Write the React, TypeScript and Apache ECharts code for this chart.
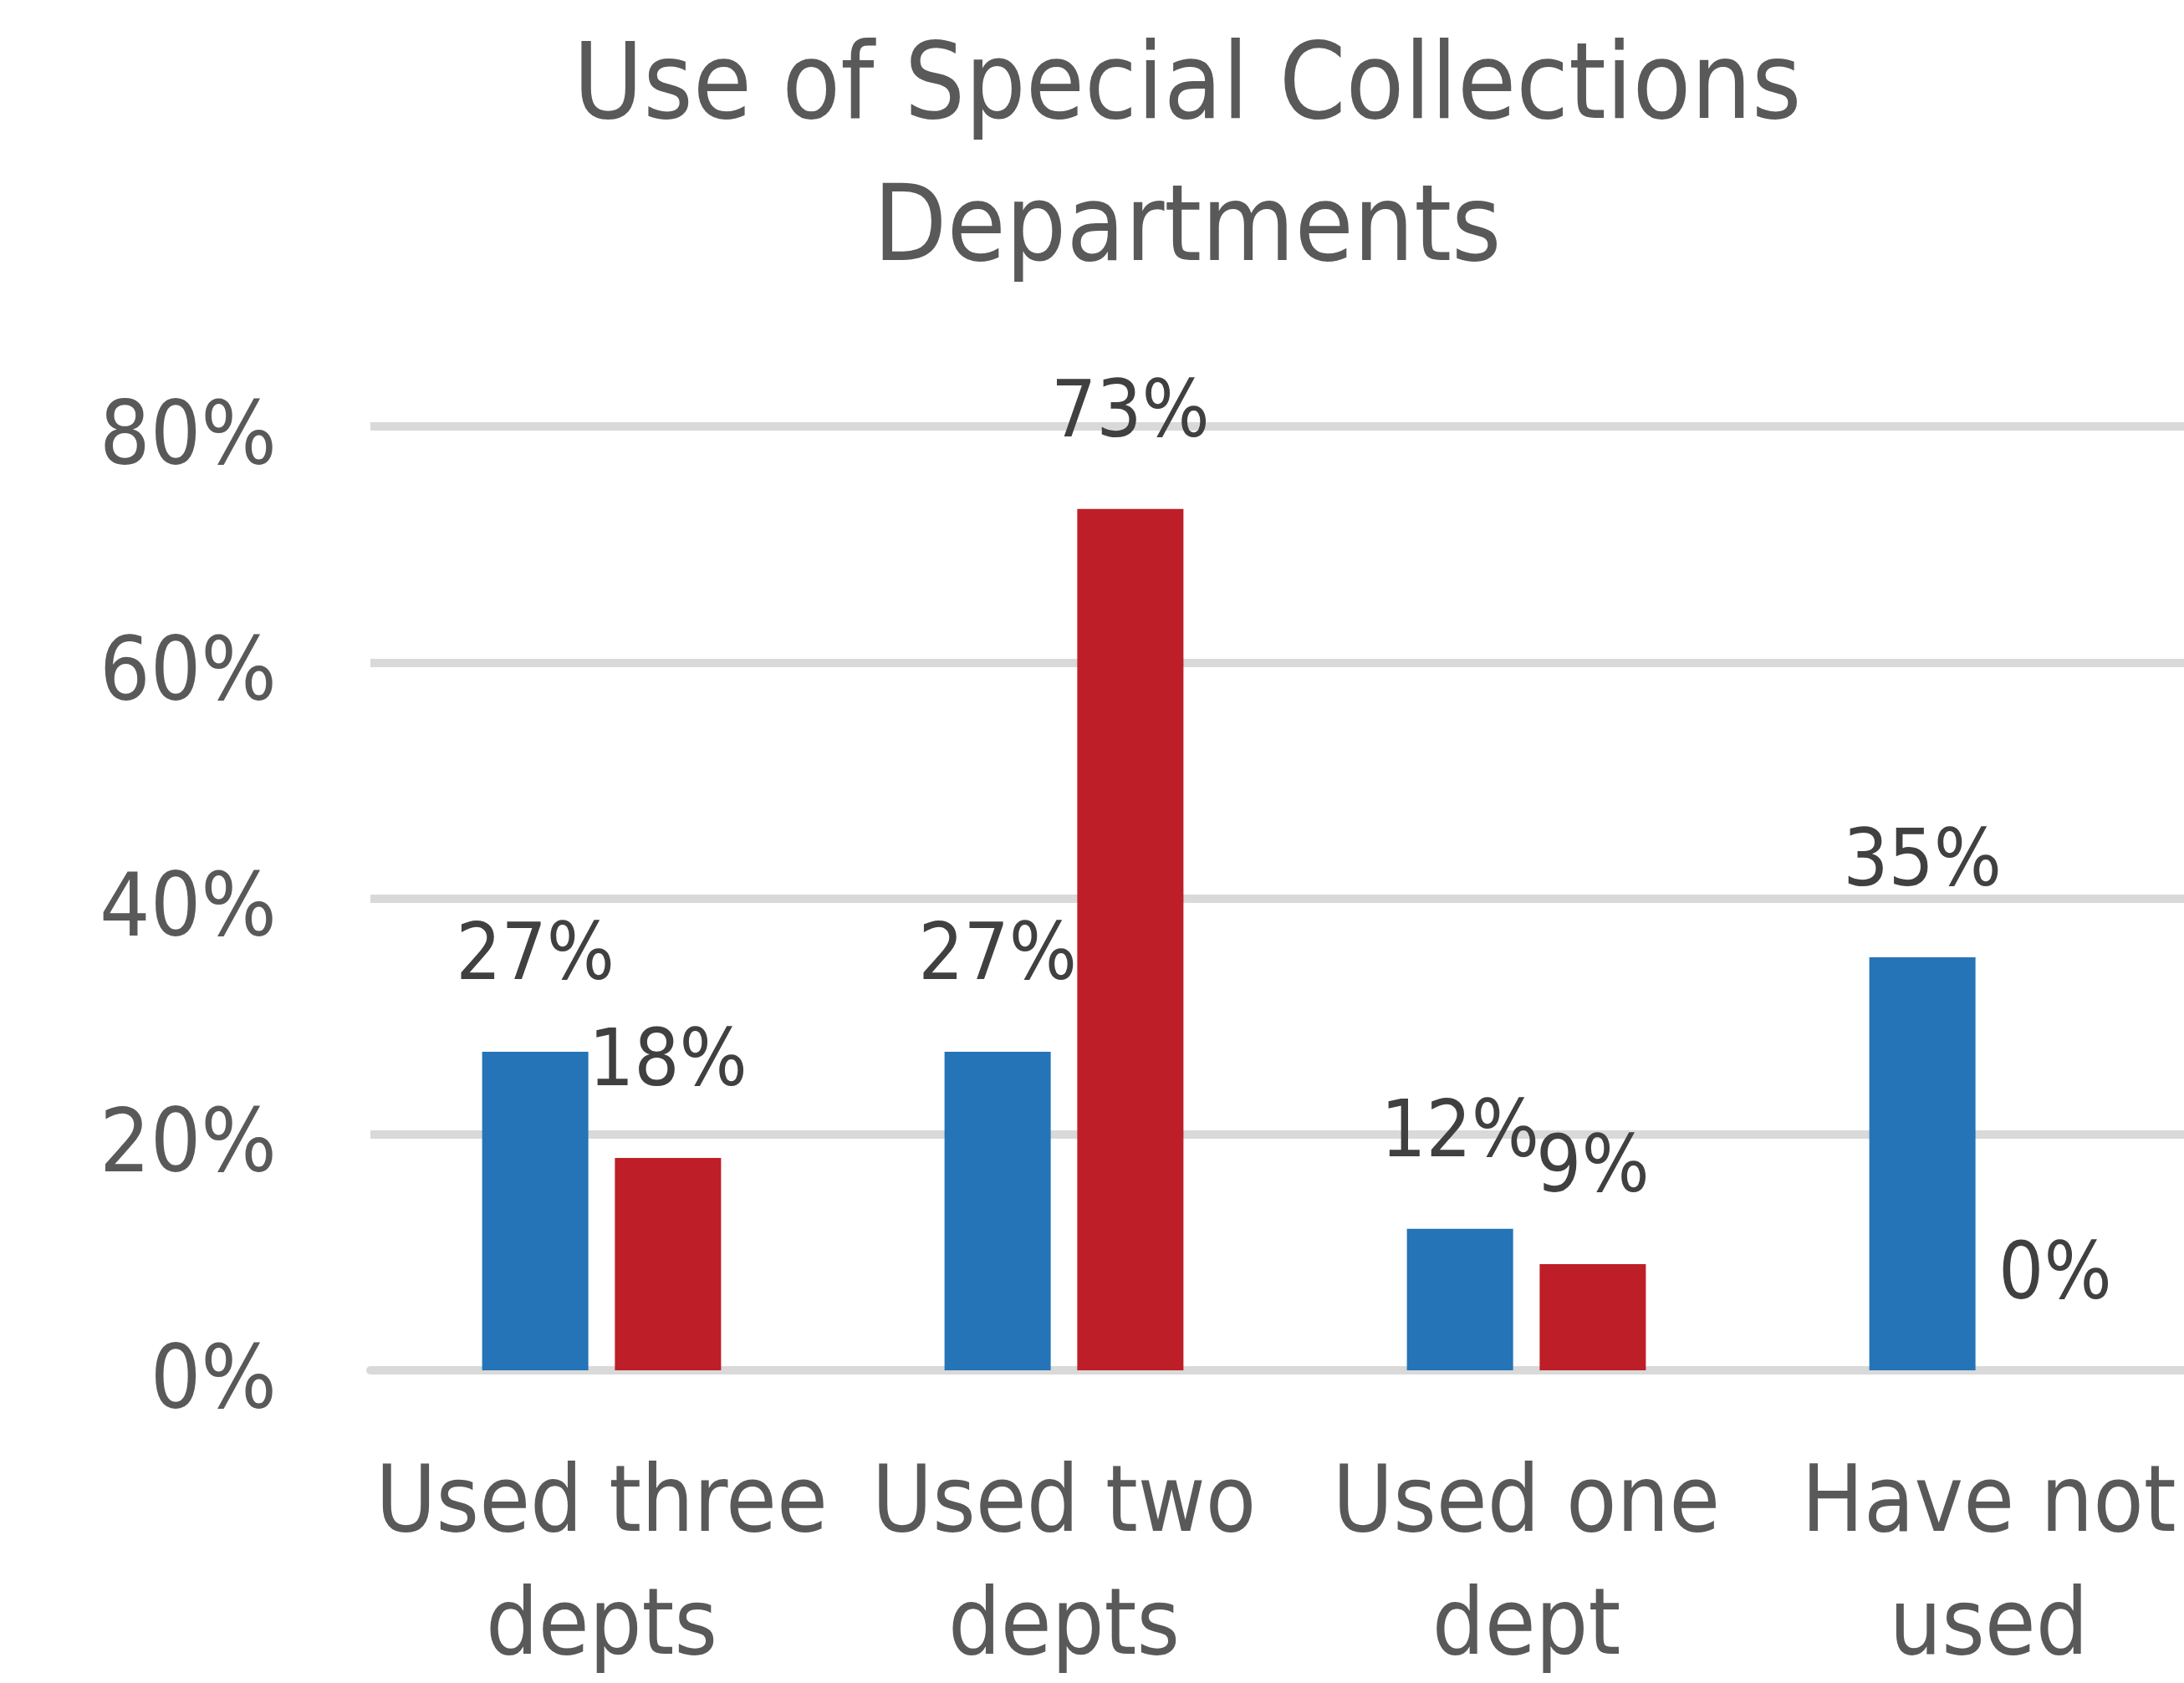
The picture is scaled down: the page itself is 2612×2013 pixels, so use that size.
import React, { useEffect, useRef } from "react";
import * as echarts from "echarts";

const titleLines = ["Use of Special Collections", "Departments"];
const categories = ["Used three\ndepts", "Used two\ndepts", "Used one\ndept", "Have not\nused"];
const seriesA = [27, 27, 12, 35];
const seriesB = [18, 73, 9, 0];
const yMin = 0;
const yMax = 80;
const yInterval = 20;

const FONT = "'Liberation Sans Narrow', 'DejaVu Sans Condensed', 'Liberation Sans', sans-serif";

export default function App() {
  const ref = useRef<HTMLDivElement>(null);
  useEffect(() => {
    if (!ref.current) return;
    const chart = echarts.init(ref.current, undefined, { renderer: "svg" });
    const labelStyle = {
      show: true,
      position: "top" as const,
      distance: 72,
      fontFamily: FONT,
      fontSize: 95,
      lineHeight: 95,
      color: "#404040",
      formatter: (p: any) => `${p.value}%`,
    };
    chart.setOption({
      animation: false,
      backgroundColor: "#ffffff",
      title: {
        text: titleLines.join("\n"),
        left: 1420,
        top: 12,
        padding: 0,
        textAlign: "center",
        textStyle: {
          fontFamily: FONT,
          fontSize: 127,
          lineHeight: 170,
          fontWeight: "normal",
          color: "#595959",
        },
      },
      grid: { left: 443, top: 510, width: 2212, height: 1141, containLabel: false },
      xAxis: {
        type: "category",
        data: categories,
        axisTick: { show: false },
        axisLine: { show: true, lineStyle: { color: "#d9d9d9", width: 10 } },
        axisLabel: {
          margin: 80,
          fontFamily: FONT,
          fontSize: 110,
          lineHeight: 147,
          color: "#595959",
          interval: 0,
        },
      },
      yAxis: {
        type: "value",
        min: yMin,
        max: yMax,
        interval: yInterval,
        axisLine: { show: false },
        axisTick: { show: false },
        splitLine: { lineStyle: { color: "#d9d9d9", width: 10 } },
        axisLabel: {
          margin: 112,
          fontFamily: FONT,
          fontSize: 106,
          color: "#595959",
          verticalAlign: "top",
          lineHeight: 16,
          formatter: "{value}%",
        },
      },
      series: [
        {
          type: "bar",
          data: seriesA,
          barWidth: 127,
          barGap: "25%",
          itemStyle: { color: "#2474B7" },
          label: labelStyle,
        },
        {
          type: "bar",
          data: seriesB,
          barWidth: 127,
          barGap: "25%",
          itemStyle: { color: "#BE1E27" },
          label: labelStyle,
        },
      ],
    });
    return () => chart.dispose();
  }, []);
  return (
    <div style={{ position: "fixed", left: 0, top: 0, width: 2612, height: 2013, overflow: "hidden", background: "#fff" }}>
      <div ref={ref} style={{ width: 2900, height: 2013 }} />
    </div>
  );
}
